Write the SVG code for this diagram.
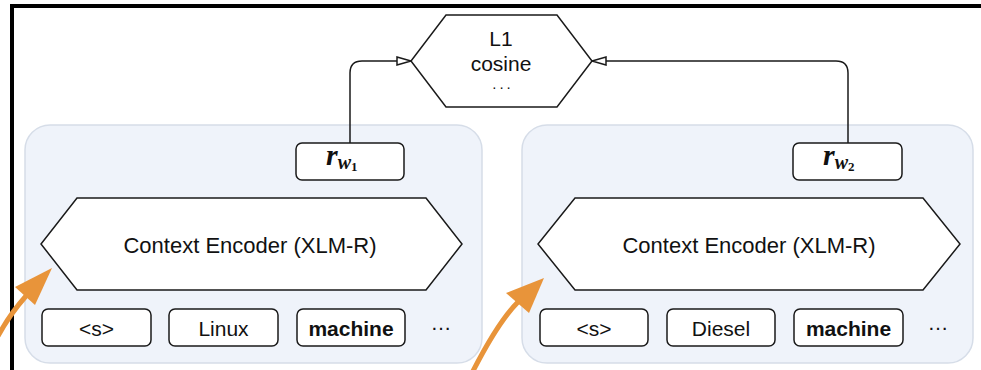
<svg xmlns="http://www.w3.org/2000/svg" width="981" height="370" viewBox="0 0 981 370">
  <style>
    .frame { stroke: #000; stroke-width: 4; fill: none; }
    .panel { fill: #eff3fa; stroke: #d6dde8; stroke-width: 1.5; }
    .shape { fill: #fff; stroke: #1a1a1a; stroke-width: 1.5; stroke-linejoin: miter; }
    .box { fill: #fff; stroke: #1a1a1a; stroke-width: 1.5; }
    .lbl { font-family: "Liberation Sans", Arial, sans-serif; font-size: 21px; fill: #111; text-anchor: middle; }
    .big { font-size: 22px; }
    .bold { font-weight: bold; }
    .dots { font-size: 15px; letter-spacing: 3px; }
    .math { font-family: "Liberation Serif", "Times New Roman", serif; font-weight: bold; font-style: italic; fill: #111; }
    .edge { fill: none; stroke: #1a1a1a; stroke-width: 1.5; }
    .hi { fill: none; stroke: #e8943a; stroke-width: 5; }
    .hihead { fill: #e8943a; }
  </style>
  <defs>
    <marker id="open-tri" viewBox="0 0 16 10" refX="15" refY="5" markerWidth="16" markerHeight="10" markerUnits="userSpaceOnUse" orient="auto">
      <path d="M1,1 L15,5 L1,9 Z" fill="#fff" stroke="#1a1a1a" stroke-width="1.5"/>
    </marker>
  </defs>

  <rect width="981" height="370" fill="#fff"/>

  <!-- outer frame (top and left edges only) -->
  <path class="frame" d="M12,372 L12,6 L983,6"/>

  <!-- left branch panel -->
  <g id="panel-left">
    <rect class="panel" x="25" y="125" width="457" height="238" rx="25"/>
  </g>
  <!-- right branch panel -->
  <g id="panel-right">
    <rect class="panel" x="522" y="125" width="451" height="238" rx="25"/>
  </g>

  <!-- similarity node -->
  <g id="similarity">
    <polygon class="shape" points="446,15 557,15 592,61 557,107 446,107 411,61"/>
    <text class="lbl" x="501" y="46">L1</text>
    <text class="lbl" x="501" y="71">cosine</text>
    <text class="lbl dots" x="503" y="89">...</text>
  </g>

  <!-- word representations -->
  <g id="rep-w1">
    <rect class="box" x="296" y="143" width="108" height="37" rx="6"/>
    <text class="math" x="326" y="165"><tspan font-size="30">r</tspan><tspan font-size="20" dy="4">w</tspan><tspan font-size="13" font-style="normal" dy="2">1</tspan></text>
  </g>
  <g id="rep-w2">
    <rect class="box" x="793" y="143" width="109" height="37" rx="6"/>
    <text class="math" x="823" y="165"><tspan font-size="30">r</tspan><tspan font-size="20" dy="4">w</tspan><tspan font-size="13" font-style="normal" dy="2">2</tspan></text>
  </g>

  <!-- encoders -->
  <g id="encoder-left">
    <polygon class="shape" points="77,198 426,198 462,244 426,290 77,290 41,244"/>
    <text class="lbl big" x="250" y="253">Context Encoder (XLM-R)</text>
  </g>
  <g id="encoder-right">
    <polygon class="shape" points="575,198 923,198 960,244 923,290 575,290 538,244"/>
    <text class="lbl big" x="749" y="253">Context Encoder (XLM-R)</text>
  </g>

  <!-- input tokens, left -->
  <g id="tok-l-bos">
    <rect class="box" x="42" y="309" width="109" height="37" rx="6"/>
    <text class="lbl" x="96.5" y="336">&lt;s&gt;</text>
  </g>
  <g id="tok-l-linux">
    <rect class="box" x="169" y="309" width="109" height="37" rx="6"/>
    <text class="lbl" x="223.5" y="336">Linux</text>
  </g>
  <g id="tok-l-machine">
    <rect class="box" x="297" y="309" width="108" height="37" rx="6"/>
    <text class="lbl bold" x="351" y="336">machine</text>
  </g>
  <g id="tok-l-more">
    <text class="lbl" x="441" y="330">…</text>
  </g>

  <!-- input tokens, right -->
  <g id="tok-r-bos">
    <rect class="box" x="540" y="309" width="108" height="37" rx="6"/>
    <text class="lbl" x="594" y="336">&lt;s&gt;</text>
  </g>
  <g id="tok-r-diesel">
    <rect class="box" x="667" y="309" width="108" height="37" rx="6"/>
    <text class="lbl" x="721" y="336">Diesel</text>
  </g>
  <g id="tok-r-machine">
    <rect class="box" x="794" y="309" width="109" height="37" rx="6"/>
    <text class="lbl bold" x="848.5" y="336">machine</text>
  </g>
  <g id="tok-r-more">
    <text class="lbl" x="938" y="330">…</text>
  </g>

  <!-- connectors -->
  <g id="connectors">
    <path class="edge" d="M350,143 L350,73 Q350,61 362,61 L411,61" marker-end="url(#open-tri)"/>
    <path class="edge" d="M848,143 L848,73 Q848,61 836,61 L592,61" marker-end="url(#open-tri)"/>
  </g>

  <!-- highlight pointers -->
  <g id="pointers">
    <path class="hi" d="M-2,336 Q10,314 26,296"/>
    <polygon class="hihead" points="52,268 15,287 35,305"/>
    <path class="hi" d="M472,373 Q498,322 518,302"/>
    <polygon class="hihead" points="544,278 506,293 529,313"/>
  </g>
</svg>
